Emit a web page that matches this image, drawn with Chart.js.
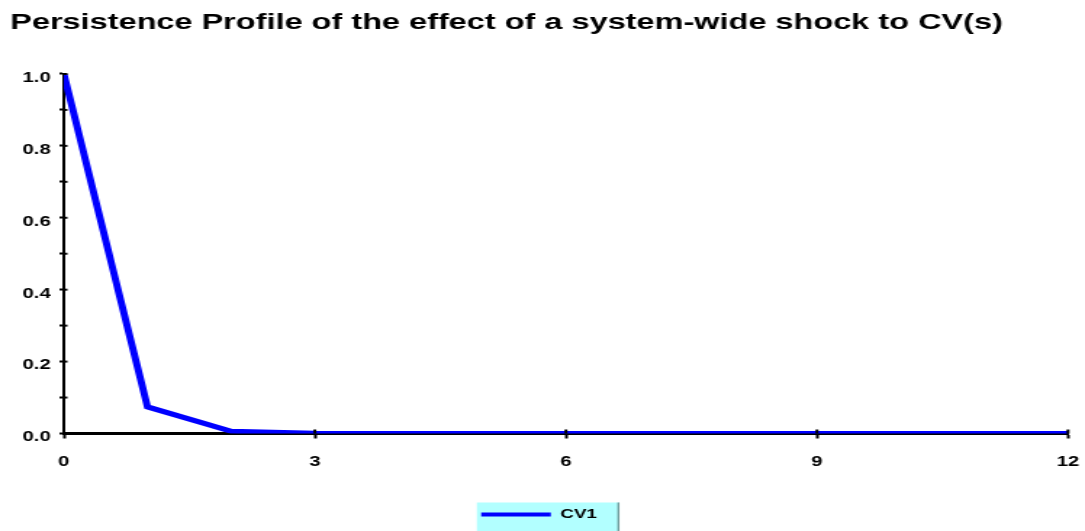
<!DOCTYPE html>
<html>
<head>
<meta charset="utf-8">
<script src="https://cdn.jsdelivr.net/npm/chart.js@4.4.1/dist/chart.umd.min.js"></script>
<style>
html,body{margin:0;padding:0;background:#fff;overflow:hidden;}
#wrap{width:748px;height:531px;transform:scaleX(1.4505);transform-origin:0 0;}
canvas{display:block;}
</style>
</head>
<body>
<div id="wrap"><canvas id="c" width="748" height="531"></canvas></div>
<script>
const TITLE = 'Persistence Profile of the effect of a system-wide shock to CV(s)';
const SERIES_NAME = 'CV1';
const periods = [0, 1, 2, 3, 4, 5, 6, 7, 8, 9, 10, 11, 12];
const cv1 = [1.0, 0.074, 0.006, 0.0005, 0.00004, 0, 0, 0, 0, 0, 0, 0, 0];
const xTickLabels = ['0', '3', '6', '9', '12'];
const yTickLabels = ['0.0', '0.2', '0.4', '0.6', '0.8', '1.0'];

Chart.defaults.font.family = '"Liberation Sans", Arial, sans-serif';
Chart.defaults.font.weight = 'bold';
Chart.defaults.color = '#000';

const legendBg = {
  id: 'legendBg',
  beforeDraw(chart) {
    const lg = chart.legend;
    if (!lg || !lg.legendHitBoxes || !lg.legendHitBoxes.length) return;
    const hb = lg.legendHitBoxes[0];
    const ctx = chart.ctx;
    const l = hb.left - 3, r = hb.left + hb.width + 15.5;
    const t = lg.top + 1, b = chart.height;
    ctx.save();
    ctx.fillStyle = '#b2ffff';
    ctx.fillRect(l, t, r - l, b - t);
    ctx.fillStyle = '#6f9a9a';
    ctx.fillRect(r - 1.4, t, 1.4, b - t);
    ctx.restore();
  }
};

const crossTicks = {
  id: 'crossTicks',
  afterDraw(chart) {
    const ctx = chart.ctx;
    const xs = chart.scales.x, ys = chart.scales.y;
    const area = chart.chartArea;
    ctx.save();
    ctx.strokeStyle = '#000';
    ctx.lineWidth = 2;
    ys.ticks.forEach(t => {
      const py = ys.getPixelForValue(t.value);
      ctx.beginPath(); ctx.moveTo(area.left, py); ctx.lineTo(area.left + 2.5, py); ctx.stroke();
    });
    xs.ticks.forEach(t => {
      if (t.value === 0) return;
      const px = xs.getPixelForValue(t.value);
      ctx.beginPath(); ctx.moveTo(px, area.bottom); ctx.lineTo(px, area.bottom - 4); ctx.stroke();
    });
    ctx.restore();
  }
};

new Chart(document.getElementById('c'), {
  type: 'line',
  data: {
    datasets: [{
      label: SERIES_NAME,
      data: periods.map((p, i) => ({x: p, y: cv1[i]})),
      borderColor: '#0000ff',
      backgroundColor: '#0000ff',
      borderWidth: 5,
      pointRadius: 0,
      tension: 0,
      fill: false
    }]
  },
  options: {
    responsive: false,
    animation: false,
    devicePixelRatio: 1,
    layout: { padding: { left: 7, right: 11.7, top: 0, bottom: 0 } },
    plugins: {
      title: {
        display: true,
        text: TITLE,
        align: 'start',
        font: { size: 22.4, weight: 'bold' },
        color: '#000',
        padding: { top: 9.6, bottom: 37.5 }
      },
      legend: {
        display: true,
        position: 'bottom',
        labels: {
          font: { size: 13, weight: 'bold' },
          color: '#000',
          boxWidth: 48,
          boxHeight: 4,
          padding: 6.5,
          generateLabels(chart) {
            return chart.data.datasets.map((ds, i) => ({
              text: ds.label,
              fillStyle: ds.borderColor,
              strokeStyle: ds.borderColor,
              lineWidth: 0,
              hidden: false,
              datasetIndex: i
            }));
          }
        }
      },
      tooltip: { enabled: false }
    },
    scales: {
      x: {
        type: 'linear',
        min: 0,
        max: 12,
        z: 1,
        afterFit(s) { s.height = 68; s.paddingLeft = 0; s.paddingRight = 0; },
        ticks: {
          stepSize: 3,
          padding: 15,
          font: { size: 14, weight: 'bold' },
          color: '#000',
          callback: (v) => xTickLabels[Math.round(v / 3)] ?? ''
        },
        grid: { drawOnChartArea: false, tickLength: 5, tickWidth: 2, tickColor: '#000' },
        border: { color: '#000', width: 3 }
      },
      y: {
        min: 0,
        max: 1,
        afterFit(s) { s.width = 37; },
        ticks: {
          stepSize: 0.1,
          padding: 6,
          labelOffset: 4,
          font: { size: 14, weight: 'bold' },
          color: '#000',
          autoSkip: false,
          callback: (v) => {
            const k = Math.round(v * 10);
            return k % 2 === 0 ? yTickLabels[k / 2] : '';
          }
        },
        grid: { drawOnChartArea: false, tickLength: 3, tickWidth: 2, tickColor: '#000' },
        border: { color: '#000', width: 2 }
      }
    }
  },
  plugins: [legendBg, crossTicks]
});
</script>
</body>
</html>
